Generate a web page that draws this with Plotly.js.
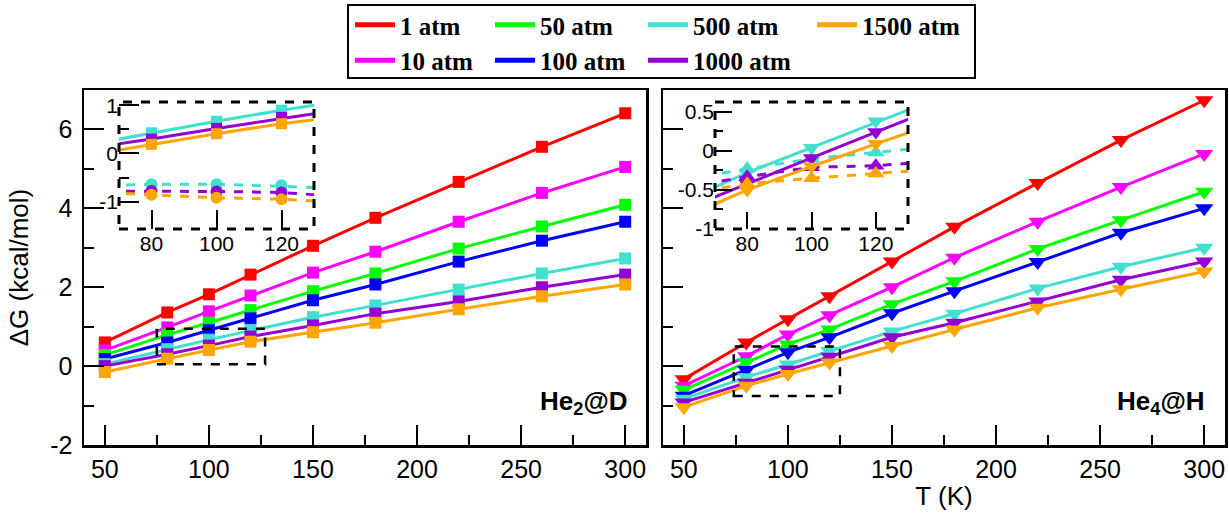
<!DOCTYPE html>
<html>
<head>
<meta charset="utf-8">
<script src="https://cdn.plot.ly/plotly-3.0.1.min.js"></script>
<style>html,body{margin:0;padding:0;background:#fff;}#chart{width:1229px;height:515px;}</style>
</head>
<body>
<div id="chart"></div>
<script>
// ---------- data ----------
const T = [50, 80, 100, 120, 150, 180, 220, 260, 300];
const pressureLabels = ['1 atm', '10 atm', '50 atm', '100 atm', '500 atm', '1000 atm', '1500 atm'];

// He2@D  (left panel)
const he2D_1    = [0.60, 1.36, 1.82, 2.32, 3.05, 3.76, 4.67, 5.56, 6.41];
const he2D_10   = [0.40, 0.98, 1.39, 1.79, 2.37, 2.90, 3.66, 4.39, 5.05];
const he2D_50   = [0.28, 0.80, 1.10, 1.42, 1.90, 2.35, 2.98, 3.54, 4.09];
const he2D_100  = [0.18, 0.60, 0.91, 1.21, 1.67, 2.07, 2.65, 3.18, 3.66];
const he2D_500  = [0.05, 0.43, 0.67, 0.90, 1.24, 1.54, 1.94, 2.35, 2.73];
const he2D_1000 = [0.00, 0.30, 0.52, 0.75, 1.03, 1.33, 1.64, 2.00, 2.32];
const he2D_1500 = [-0.15, 0.19, 0.41, 0.62, 0.86, 1.10, 1.44, 1.77, 2.07];

// He4@H  (right panel)
const he4H_1    = [-0.33, 0.60, 1.19, 1.77, 2.65, 3.53, 4.64, 5.73, 6.74];
const he4H_10   = [-0.50, 0.25, 0.80, 1.29, 2.00, 2.75, 3.66, 4.54, 5.38];
const he4H_50   = [-0.60, 0.10, 0.55, 0.93, 1.57, 2.15, 2.97, 3.70, 4.42];
const he4H_100  = [-0.75, -0.10, 0.35, 0.73, 1.34, 1.90, 2.64, 3.38, 4.00];
const he4H_500  = [-0.83, -0.28, 0.04, 0.38, 0.88, 1.33, 1.97, 2.52, 3.00];
const he4H_1000 = [-0.92, -0.42, -0.09, 0.24, 0.73, 1.10, 1.64, 2.19, 2.65];
const he4H_1500 = [-1.04, -0.50, -0.20, 0.09, 0.51, 0.93, 1.48, 1.95, 2.40];

// inset dashed series
const Tin = [50, 80, 100, 120, 150];
const he2D_dash_500  = [-0.70, -0.64, -0.64, -0.66, -0.75];
const he2D_dash_1000 = [-0.78, -0.78, -0.79, -0.81, -0.95];
const he2D_dash_1500 = [-0.77, -0.86, -0.92, -0.95, -1.07];
const he4H_dash_500  = [-0.44, -0.23, -0.10, -0.02, 0.10];
const he4H_dash_1000 = [-0.54, -0.33, -0.21, -0.19, -0.10];
const he4H_dash_1500 = [-0.63, -0.42, -0.35, -0.29, -0.20];

// tick labels
const mainYTickVals = [-2, 0, 2, 4, 6];
const mainYTickText = ['-2', '0', '2', '4', '6'];
const mainXTickVals = [50, 100, 150, 200, 250, 300];
const mainXTickText = ['50', '100', '150', '200', '250', '300'];
const insetXTickVals = [80, 100, 120];
const insetXTickText = ['80', '100', '120'];
const insetLYTickVals = [-1, 0, 1];
const insetLYTickText = ['-1', '0', '1'];
const insetRYTickVals = [-1, -0.5, 0, 0.5];
const insetRYTickText = ['-1', '-0.5', '0', '0.5'];

// ---------- styling ----------
const colors = ['#ff0000', '#ff00ff', '#00ff00', '#0000ff', '#40e0d0', '#9400d3', '#ffa500'];
const leftSeries  = [he2D_1, he2D_10, he2D_50, he2D_100, he2D_500, he2D_1000, he2D_1500];
const rightSeries = [he4H_1, he4H_10, he4H_50, he4H_100, he4H_500, he4H_1000, he4H_1500];
const leftDash  = [he2D_dash_500, he2D_dash_1000, he2D_dash_1500];
const rightDash = [he4H_dash_500, he4H_dash_1000, he4H_dash_1500];

const traces = [];
leftSeries.forEach((ys, i) => traces.push({
  x: T, y: ys, xaxis: 'x', yaxis: 'y', mode: 'lines+markers', showlegend: false,
  name: pressureLabels[i], line: {color: colors[i], width: 3},
  marker: {symbol: 'square', size: 12, color: colors[i]}
}));
rightSeries.forEach((ys, i) => traces.push({
  x: T, y: ys, xaxis: 'x2', yaxis: 'y2', mode: 'lines+markers', showlegend: false,
  name: pressureLabels[i], line: {color: colors[i], width: 3},
  marker: {symbol: 'triangle-down', size: 16, color: colors[i]}
}));
// insets
[4, 5, 6].forEach((i, k) => {
  traces.push({x: Tin, y: leftDash[k], xaxis: 'x3', yaxis: 'y3', mode: 'lines+markers', showlegend: false,
    line: {color: colors[i], width: 3, dash: 'dash'}, marker: {symbol: 'circle', size: 12, color: colors[i]}, cliponaxis: true});
  traces.push({x: T, y: leftSeries[i], xaxis: 'x3', yaxis: 'y3', mode: 'lines+markers', showlegend: false,
    line: {color: colors[i], width: 3}, marker: {symbol: 'square', size: 11, color: colors[i]}, cliponaxis: true});
  traces.push({x: Tin, y: rightDash[k], xaxis: 'x4', yaxis: 'y4', mode: 'lines+markers', showlegend: false,
    line: {color: colors[i], width: 3, dash: 'dash'}, marker: {symbol: 'triangle-up', size: 15, color: colors[i]}, cliponaxis: true});
  traces.push({x: T, y: rightSeries[i], xaxis: 'x4', yaxis: 'y4', mode: 'lines+markers', showlegend: false,
    line: {color: colors[i], width: 3}, marker: {symbol: 'triangle-down', size: 15, color: colors[i]}, cliponaxis: true});
});
// legend entries (line only)
const legendOf = ['legend', 'legend', 'legend2', 'legend2', 'legend3', 'legend3', 'legend4'];
pressureLabels.forEach((lab, i) => traces.push({
  x: [null], y: [null], xaxis: 'x', yaxis: 'y', mode: 'lines', name: lab, showlegend: true,
  legend: legendOf[i], line: {color: colors[i], width: 5}, hoverinfo: 'skip'
}));

const W = 1229, H = 515;
const px = v => v / W, py = v => 1 - v / H;
const tickFont = {family: 'Liberation Sans, Arial, sans-serif', size: 25, color: '#000'};
const insetFont = {family: 'Liberation Sans, Arial, sans-serif', size: 21, color: '#000'};

function mainX(domain) {
  return {domain: domain, range: [40, 310], tickmode: 'array', tickvals: mainXTickVals, ticktext: mainXTickText,
    ticks: 'inside', ticklen: 20, tickwidth: 2, tickcolor: '#000',
    minor: {tickmode: 'array', tickvals: [75, 125, 175, 225, 275], ticks: 'inside', ticklen: 10, tickwidth: 2, tickcolor: '#000'},
    showline: true, linewidth: 2.5, linecolor: '#000', mirror: true, showgrid: false, zeroline: false,
    tickfont: tickFont};
}
function mainY(domain, anchor, showLabels) {
  return {domain: domain, anchor: anchor, range: [-2, 7], tickmode: 'array', tickvals: mainYTickVals, ticktext: mainYTickText,
    ticks: 'inside', ticklen: 20, tickwidth: 2, tickcolor: '#000',
    minor: {tickmode: 'array', tickvals: [-1, 1, 3, 5], ticks: 'inside', ticklen: 10, tickwidth: 2, tickcolor: '#000'},
    showline: true, linewidth: 2.5, linecolor: '#000', mirror: true, showgrid: false, zeroline: false,
    showticklabels: showLabels, tickfont: tickFont, ticklabelstandoff: 4};
}

const yDom = [py(445), py(90)];
const insetYDom = [py(229), py(102)];
const legendFont = {family: 'Liberation Serif, Times New Roman, serif', size: 25, color: '#000', weight: 'bold'};
function leg(xpx) {
  return {orientation: 'v', x: px(xpx), y: py(2), xanchor: 'left', yanchor: 'top', bgcolor: 'rgba(0,0,0,0)',
    borderwidth: 0, font: legendFont, itemwidth: 40, tracegroupgap: 0};
}

const yMain = mainY(yDom, 'x', true);
yMain.title = {text: 'ΔG (kcal/mol)', font: {family: 'Liberation Sans, Arial, sans-serif', size: 26, color: '#000'}, standoff: 14};
const xRight = mainX([px(663), px(1225)]);
xRight.anchor = 'y2';
xRight.title = {text: 'T (K)', font: {family: 'Liberation Sans, Arial, sans-serif', size: 26, color: '#000'}, standoff: 6};

const layout = {
  width: W, height: H, margin: {l: 0, r: 0, t: 0, b: 0},
  paper_bgcolor: '#fff', plot_bgcolor: '#fff', showlegend: true,
  xaxis: mainX([px(84), px(646)]),
  yaxis: yMain,
  xaxis2: xRight,
  yaxis2: mainY(yDom, 'x2', false),
  xaxis3: {domain: [px(119), px(314)], anchor: 'y3', range: [70, 130], tickmode: 'array', tickvals: insetXTickVals, ticktext: insetXTickText,
    ticks: 'inside', ticklen: 19, tickwidth: 2, tickcolor: '#000', showline: false, showgrid: false, zeroline: false, tickfont: insetFont},
  yaxis3: {domain: insetYDom, anchor: 'x3', range: [-1.57, 1.07], tickmode: 'array', tickvals: insetLYTickVals, ticktext: insetLYTickText,
    ticks: 'inside', ticklen: 20, tickwidth: 2, tickcolor: '#000',
    minor: {tickmode: 'array', tickvals: [-0.5, 0.5], ticks: 'inside', ticklen: 10, tickwidth: 2, tickcolor: '#000'},
    showline: false, showgrid: false, zeroline: false, tickfont: insetFont},
  xaxis4: {domain: [px(715), px(908)], anchor: 'y4', range: [70, 130], tickmode: 'array', tickvals: insetXTickVals, ticktext: insetXTickText,
    ticks: 'inside', ticklen: 17, tickwidth: 2, tickcolor: '#000', showline: false, showgrid: false, zeroline: false, tickfont: insetFont},
  yaxis4: {domain: insetYDom, anchor: 'x4', range: [-1, 0.625], tickmode: 'array', tickvals: insetRYTickVals, ticktext: insetRYTickText,
    ticks: 'inside', ticklen: 17, tickwidth: 2, tickcolor: '#000',
    minor: {tickmode: 'array', tickvals: [-0.75, -0.25, 0.25], ticks: 'inside', ticklen: 8, tickwidth: 2, tickcolor: '#000'},
    showline: false, showgrid: false, zeroline: false, tickfont: insetFont},
  legend: leg(350), legend2: leg(490), legend3: leg(643), legend4: leg(812),
  shapes: [
    {type: 'rect', xref: 'paper', yref: 'paper', x0: px(348), x1: px(975), y0: py(78), y1: py(5), line: {color: '#000', width: 2}},
    {type: 'rect', xref: 'x', yref: 'y', x0: 75, x1: 127, y0: 0.05, y1: 0.95, line: {color: '#000', width: 2.5, dash: 'dash'}},
    {type: 'rect', xref: 'x2', yref: 'y2', x0: 74, x1: 125, y0: -0.76, y1: 0.5, line: {color: '#000', width: 2.5, dash: 'dash'}},
    {type: 'rect', xref: 'x3 domain', yref: 'y3 domain', x0: 0, x1: 1, y0: 0, y1: 1, line: {color: '#000', width: 3, dash: 'dash'}},
    {type: 'rect', xref: 'x4 domain', yref: 'y4 domain', x0: 0, x1: 1, y0: 0, y1: 1, line: {color: '#000', width: 3, dash: 'dash'}}
  ],
  annotations: [
    {xref: 'x domain', yref: 'y domain', x: 0.972, y: 0.12, xanchor: 'right', yanchor: 'middle', showarrow: false,
      text: '<b>He<sub>2</sub>@D</b>', font: {family: 'Liberation Sans, Arial, sans-serif', size: 26, color: '#000'}},
    {xref: 'x2 domain', yref: 'y2 domain', x: 0.968, y: 0.12, xanchor: 'right', yanchor: 'middle', showarrow: false,
      text: '<b>He<sub>4</sub>@H</b>', font: {family: 'Liberation Sans, Arial, sans-serif', size: 26, color: '#000'}}
  ]
};

Plotly.newPlot('chart', traces, layout, {staticPlot: true, displayModeBar: false});
</script>
</body>
</html>
